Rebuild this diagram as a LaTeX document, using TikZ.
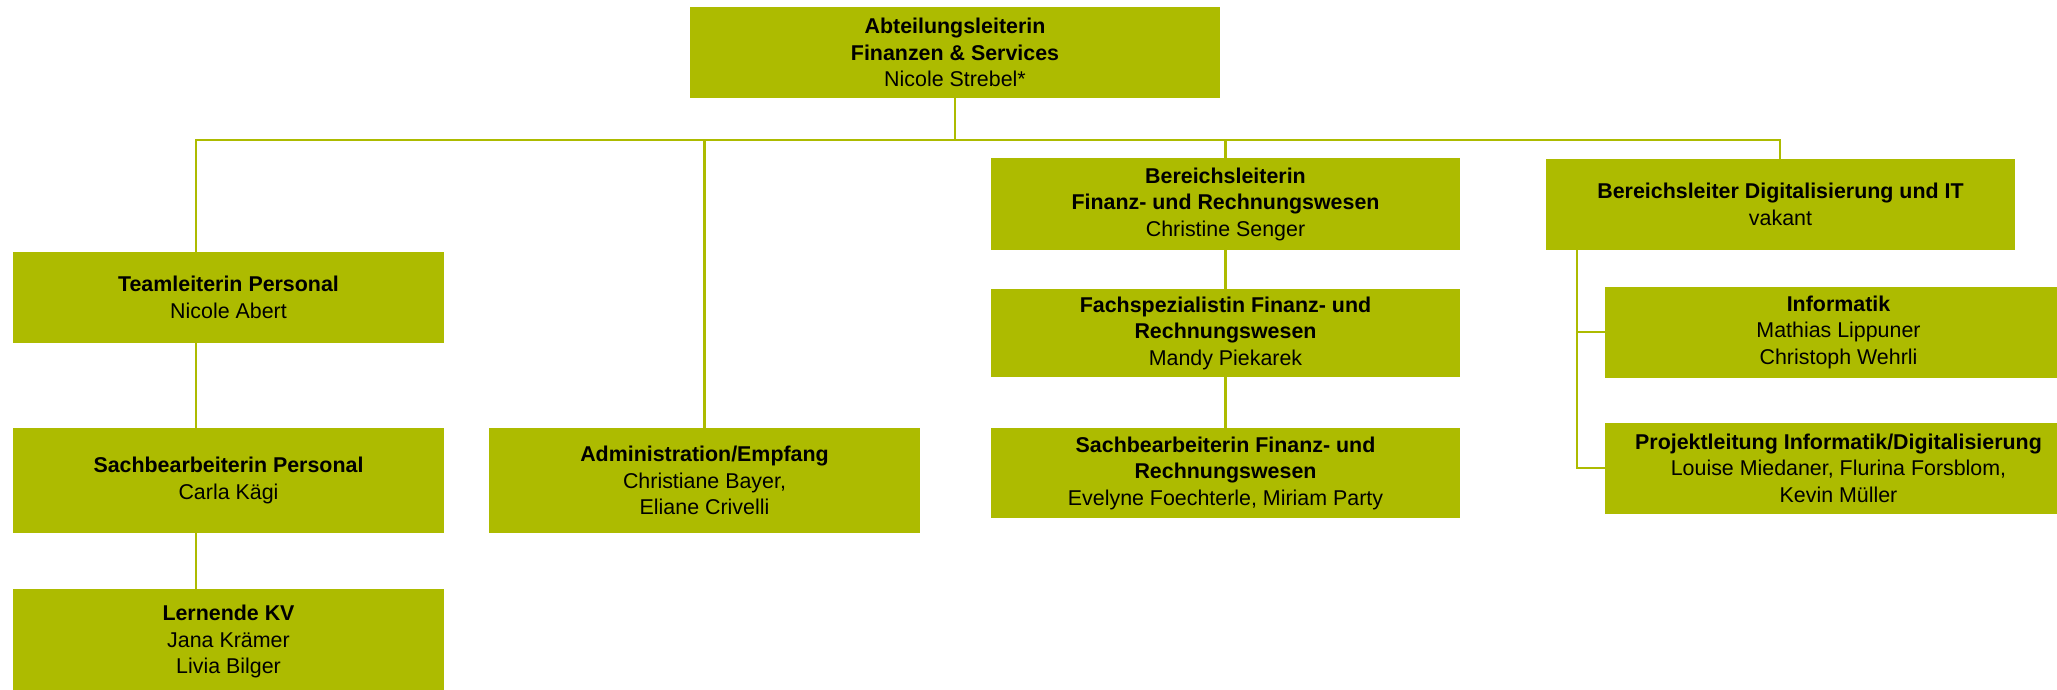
\documentclass[tikz,border=0pt]{standalone}
\usepackage{fontspec}
\setmainfont{Liberation Sans}
\definecolor{orggreen}{RGB}{173,187,0}
\tikzset{
  box/.style={fill=orggreen, inner sep=0pt, align=center, font=\fontsize{21.4}{26.5}\selectfont},
  link/.style={draw=orggreen, line width=2.6pt}
}
\begin{document}
\begin{tikzpicture}[x=1pt,y=-1pt]
                    \useasboundingbox (0,0) rectangle (2057,690);
                    %NODE
                    \node[box,minimum width=530pt,minimum height=91pt] (AL) at (955,52.5){\textbf{Abteilungsleiterin}\\\textbf{Finanzen \& Services}\\Nicole Strebel*};
                    \node[box,minimum width=431pt,minimum height=91pt] (TP) at (228.5,297.5){\textbf{Teamleiterin Personal}\\Nicole Abert};
                    \node[box,minimum width=431pt,minimum height=105pt] (SP) at (228.5,480.5){\textbf{Sachbearbeiterin Personal}\\Carla Kägi};
                    \node[box,minimum width=431pt,minimum height=105pt] (LK) at (228.5,641.5){\textbf{Lernende KV}\\Jana Krämer\\Livia Bilger};
                    \node[box,minimum width=431pt,minimum height=105pt] (AE) at (704.5,480.5){\textbf{Administration/Empfang}\\Christiane Bayer,\\Eliane Crivelli};
                    \node[box,minimum width=469pt,minimum height=91pt] (BF) at (1225.5,204){\textbf{Bereichsleiterin}\\\textbf{Finanz- und Rechnungswesen}\\Christine Senger};
                    \node[box,minimum width=469pt,minimum height=88pt] (FS) at (1225.5,333){\textbf{Fachspezialistin Finanz- und}\\\textbf{Rechnungswesen}\\Mandy Piekarek};
                    \node[box,minimum width=469pt,minimum height=90pt] (SF) at (1225.5,473){\textbf{Sachbearbeiterin Finanz- und}\\\textbf{Rechnungswesen}\\Evelyne Foechterle, Miriam Party};
                    \node[box,minimum width=469pt,minimum height=91pt] (BD) at (1780.5,204.5){\textbf{Bereichsleiter Digitalisierung und IT}\\vakant};
                    \node[box,minimum width=467pt,minimum height=91pt] (IN) at (1838.5,332){\textbf{Informatik}\\Mathias Lippuner\\Christoph Wehrli};
                    \node[box,minimum width=467pt,minimum height=91pt] (PL) at (1838.5,468){\textbf{Projektleitung Informatik/Digitalisierung}\\Louise Miedaner, Flurina Forsblom,\\Kevin Müller};
                    \coordinate (BL) at (196,140);
                    \coordinate (BR) at (1780,140);
                    \coordinate (ST) at ([xshift=31pt]BD.south west);
                    
                    %EDGE
                    \draw[link] (AL.south) -- (AL.south |- BL);
                    \draw[link] (BL |- TP.north) -- (BL) -- (BR) -- (BR |- BD.north);
                    \draw[link] (TP.south -| BL) -- (SP.north -| BL);
                    \draw[link] (SP.south -| BL) -- (LK.north -| BL);
                    \draw[link] (AE.north |- BL) -- (AE.north);
                    \draw[link] (BF.north |- BL) -- (BF.north);
                    \draw[link] (BF) -- (FS);
                    \draw[link] (FS) -- (SF);
                    \draw[link] (ST) |- (IN.west);
                    \draw[link] (ST) |- (PL.west);
                \end{tikzpicture}
\end{document}
